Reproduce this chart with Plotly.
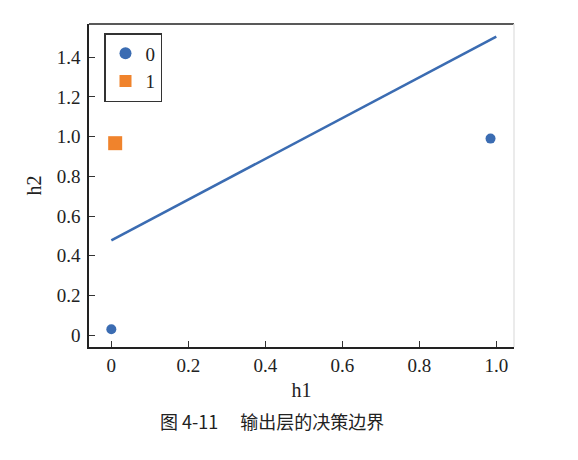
import plotly.graph_objects as go

# data
class0_h1 = [0.0, 0.985]
class0_h2 = [0.03, 0.99]
class1_h1 = [0.01]
class1_h2 = [0.967]
boundary_h1 = [0.0, 1.0]
boundary_h2 = [0.478, 1.503]
x_ticks = [0, 0.2, 0.4, 0.6, 0.8, 1.0]
x_tick_labels = ["0", "0.2", "0.4", "0.6", "0.8", "1.0"]
y_ticks = [0, 0.2, 0.4, 0.6, 0.8, 1.0, 1.2, 1.4]
y_tick_labels = ["0", "0.2", "0.4", "0.6", "0.8", "1.0", "1.2", "1.4"]

blue = "#3b6cb2"
orange = "#f0832c"
serif = "Liberation Serif"

# page body has an 8px margin, so the figure is drawn 8px in from the window edge
OFF = 8
W, H = 578 - OFF, 460 - OFF
L, T = 89 - OFF, 24 - OFF
R = W - (514 - OFF)
B = H - (347 - OFF)
pw, ph = W - L - R, H - T - B

fig = go.Figure()
fig.add_trace(go.Scatter(x=boundary_h1, y=boundary_h2, mode="lines",
                         line=dict(color=blue, width=2.6), showlegend=False))
fig.add_trace(go.Scatter(x=class0_h1, y=class0_h2, mode="markers", name="0",
                         marker=dict(symbol="circle", size=10, color=blue)))
fig.add_trace(go.Scatter(x=class1_h1, y=class1_h2, mode="markers", name="1",
                         marker=dict(symbol="square", size=14, color=orange)))

fig.update_layout(
    width=W, height=H,
    margin=dict(l=L, r=R, t=T, b=B),
    paper_bgcolor="white", plot_bgcolor="white",
    font=dict(family=serif, size=19, color="#222222"),
    legend=dict(x=(104 - OFF - L) / pw, y=(T + ph - (33 - OFF)) / ph,
                xanchor="left", yanchor="top",
                bordercolor="#333333", borderwidth=1.5, bgcolor="white",
                font=dict(family=serif, size=19), itemsizing="constant",
                tracegroupgap=2),
    xaxis=dict(range=[-0.058, 1.046], tickvals=x_ticks, ticktext=x_tick_labels,
               ticks="inside", ticklen=6, tickcolor="#333333", showgrid=False,
               zeroline=False, showline=True, linecolor="#222222", linewidth=1.5,
               automargin=False, ticklabelstandoff=0,
               title=dict(text="h1", font=dict(family=serif, size=20), standoff=8)),
    yaxis=dict(range=[-0.059, 1.567], tickvals=y_ticks, ticktext=y_tick_labels,
               ticks="inside", ticklen=6, tickcolor="#333333", showgrid=False,
               zeroline=False, showline=True, linecolor="#222222", linewidth=1.5,
               automargin=False, ticklabelstandoff=3,
               title=dict(text="h2", font=dict(family=serif, size=20), standoff=10)),
)
fig.add_shape(type="line", xref="paper", yref="paper", x0=0, x1=1, y0=1, y1=1,
              line=dict(color="#222222", width=1.5))
fig.add_shape(type="line", xref="paper", yref="paper", x0=1, x1=1, y0=0, y1=1,
              line=dict(color="#e4e4e4", width=1.5))
fig.add_annotation(text="图 4-11　 输出层的决策边界", xref="paper", yref="paper",
                   x=(272 - OFF - L) / pw, y=(T + ph - (421 - OFF)) / ph,
                   xanchor="center", yanchor="middle", showarrow=False,
                   font=dict(family="Noto Sans CJK SC", size=18, color="#222222"))

fig.write_html("out.html")
